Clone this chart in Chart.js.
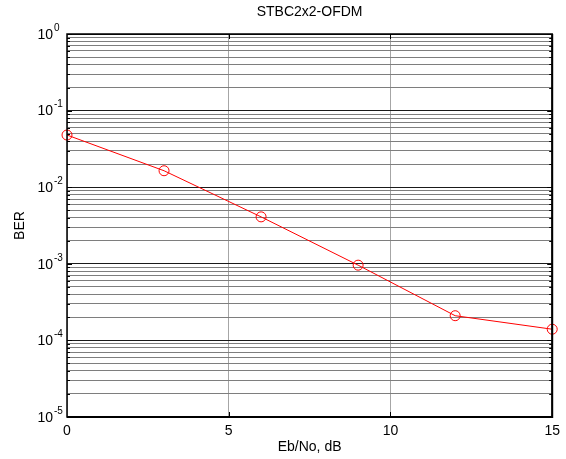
<!DOCTYPE html>
<html>
<head>
<meta charset="utf-8">
<script src="https://cdn.jsdelivr.net/npm/chart.js@4.4.1/dist/chart.umd.min.js"></script>
<style>
  html, body { margin: 0; padding: 0; background: #fff; }
  #wrap { width: 566px; height: 459px; }
</style>
</head>
<body>
<div id="wrap"><canvas id="berChart"></canvas></div>
<script>
/* ─── Datos ─── */
const EBNO   = [0, 3, 6, 9, 12, 15];
const BER    = [0.048, 0.0164, 0.0041, 0.00096, 0.00021, 0.00014];
const Y_EXPS = [-5, -4, -3, -2, -1, 0];      // décadas del eje y
const Y_MULT = [1, 2, 3, 4, 5, 6, 7, 8, 9];  // subdivisiones por década
const X_TICKS = [0, 5, 10, 15];

const FONT = 'Liberation Sans, Arial, sans-serif';

/* valores de ticks en y: 1..9 x 10^n, hasta 10^0 */
const Y_TICKS = [];
Y_EXPS.forEach(e => {
  if (e === 0) { Y_TICKS.push(1); return; }
  Y_MULT.forEach(m => Y_TICKS.push(+(m * Math.pow(10, e)).toPrecision(3)));
});
const isDecade = v => Math.abs(Math.log10(v) - Math.round(Math.log10(v))) < 1e-9;

/* ─── Plugin: marco, ticks interiores y etiquetas 10^n ─── */
const matlabAxes = {
  id: 'matlabAxes',
  afterDraw(chart) {
    const { ctx, chartArea: a, scales: { x, y } } = chart;
    ctx.save();
    ctx.strokeStyle = '#000';

    // ticks interiores en y (izq y der)
    ctx.lineWidth = 1;
    Y_TICKS.forEach(v => {
      const py = Math.round(y.getPixelForValue(v)) + 0.5;
      const len = isDecade(v) ? 5 : 3;
      ctx.beginPath();
      ctx.moveTo(a.left, py); ctx.lineTo(a.left + len, py);
      ctx.moveTo(a.right, py); ctx.lineTo(a.right - len, py);
      ctx.stroke();
    });
    // ticks interiores en x (arriba y abajo)
    X_TICKS.slice(1, -1).forEach(v => {
      const px = Math.round(x.getPixelForValue(v)) + 0.5;
      ctx.beginPath();
      ctx.moveTo(px, a.bottom); ctx.lineTo(px, a.bottom - 5);
      ctx.moveTo(px, a.top); ctx.lineTo(px, a.top + 5);
      ctx.stroke();
    });

    // marco
    ctx.lineWidth = 1.5;
    ctx.strokeRect(a.left, a.top, a.right - a.left, a.bottom - a.top);
    ctx.lineWidth = 2;
    ctx.beginPath();
    ctx.moveTo(a.left, a.bottom); ctx.lineTo(a.right, a.bottom); ctx.lineTo(a.right, a.top);
    ctx.stroke();

    // etiquetas 10^n
    ctx.fillStyle = '#000';
    ctx.textBaseline = 'middle';
    Y_EXPS.forEach(e => {
      const py = y.getPixelForValue(Math.pow(10, e));
      ctx.font = `14px ${FONT}`;
      ctx.textAlign = 'right';
      ctx.fillText('10', a.left - 14, py + 1);
      ctx.font = `10px ${FONT}`;
      ctx.textAlign = 'left';
      ctx.fillText(String(e), a.left - 13, py - 6);
    });
    ctx.restore();
  },
};

/* ─── Gráfico ─── */
new Chart(document.getElementById('berChart'), {
  type: 'line',
  data: {
    datasets: [{
      label: 'STBC2x2-OFDM',
      data: EBNO.map((e, i) => ({ x: e, y: BER[i] })),
      borderColor: '#ff0000',
      borderWidth: 1,
      pointStyle: 'circle',
      pointRadius: 5,
      pointHoverRadius: 5,
      pointBorderColor: '#ff0000',
      pointBackgroundColor: 'rgba(0,0,0,0)',
      pointBorderWidth: 1,
      tension: 0,
      clip: false,
    }],
  },
  options: {
    responsive: true,
    maintainAspectRatio: false,
    animation: false,
    layout: { padding: { left: 0, right: 12, top: 0, bottom: 0 } },
    plugins: {
      legend: { display: false },
      tooltip: { enabled: false },
      title: {
        display: true,
        text: 'STBC2x2-OFDM',
        fullSize: false,
        color: '#000',
        font: { size: 14, family: FONT, weight: 'normal' },
        padding: { top: 3.6, bottom: 13.6 },
      },
    },
    scales: {
      x: {
        type: 'linear',
        min: 0,
        max: 15,
        afterBuildTicks: s => { s.ticks = X_TICKS.map(v => ({ value: v })); },
        afterFit: s => { s.height = 42; },
        grid: { color: '#a6a6a6', lineWidth: 1, drawTicks: false },
        border: { display: false },
        ticks: {
          color: '#000',
          padding: 6,
          maxRotation: 0,
          autoSkip: false,
          font: { size: 14, family: FONT },
        },
        title: {
          display: true,
          text: 'Eb/No, dB',
          color: '#000',
          font: { size: 14, family: FONT },
          padding: { top: 0, bottom: 3.6 },
        },
      },
      y: {
        type: 'logarithmic',
        min: 1e-5,
        max: 1,
        afterBuildTicks: s => { s.ticks = Y_TICKS.map(v => ({ value: v, major: isDecade(v) })); },
        afterFit: s => { s.width = 67; },
        grid: {
          color: c => (c.tick && isDecade(c.tick.value) ? '#1a1a1a' : '#7e7e7e'),
          lineWidth: 1,
          drawTicks: false,
        },
        border: { display: false },
        ticks: { display: false, autoSkip: false },
        title: {
          display: true,
          text: 'BER',
          color: '#000',
          font: { size: 14, family: FONT },
          padding: { top: 11.6, bottom: 0 },
        },
      },
    },
  },
  plugins: [matlabAxes],
});
</script>
</body>
</html>
